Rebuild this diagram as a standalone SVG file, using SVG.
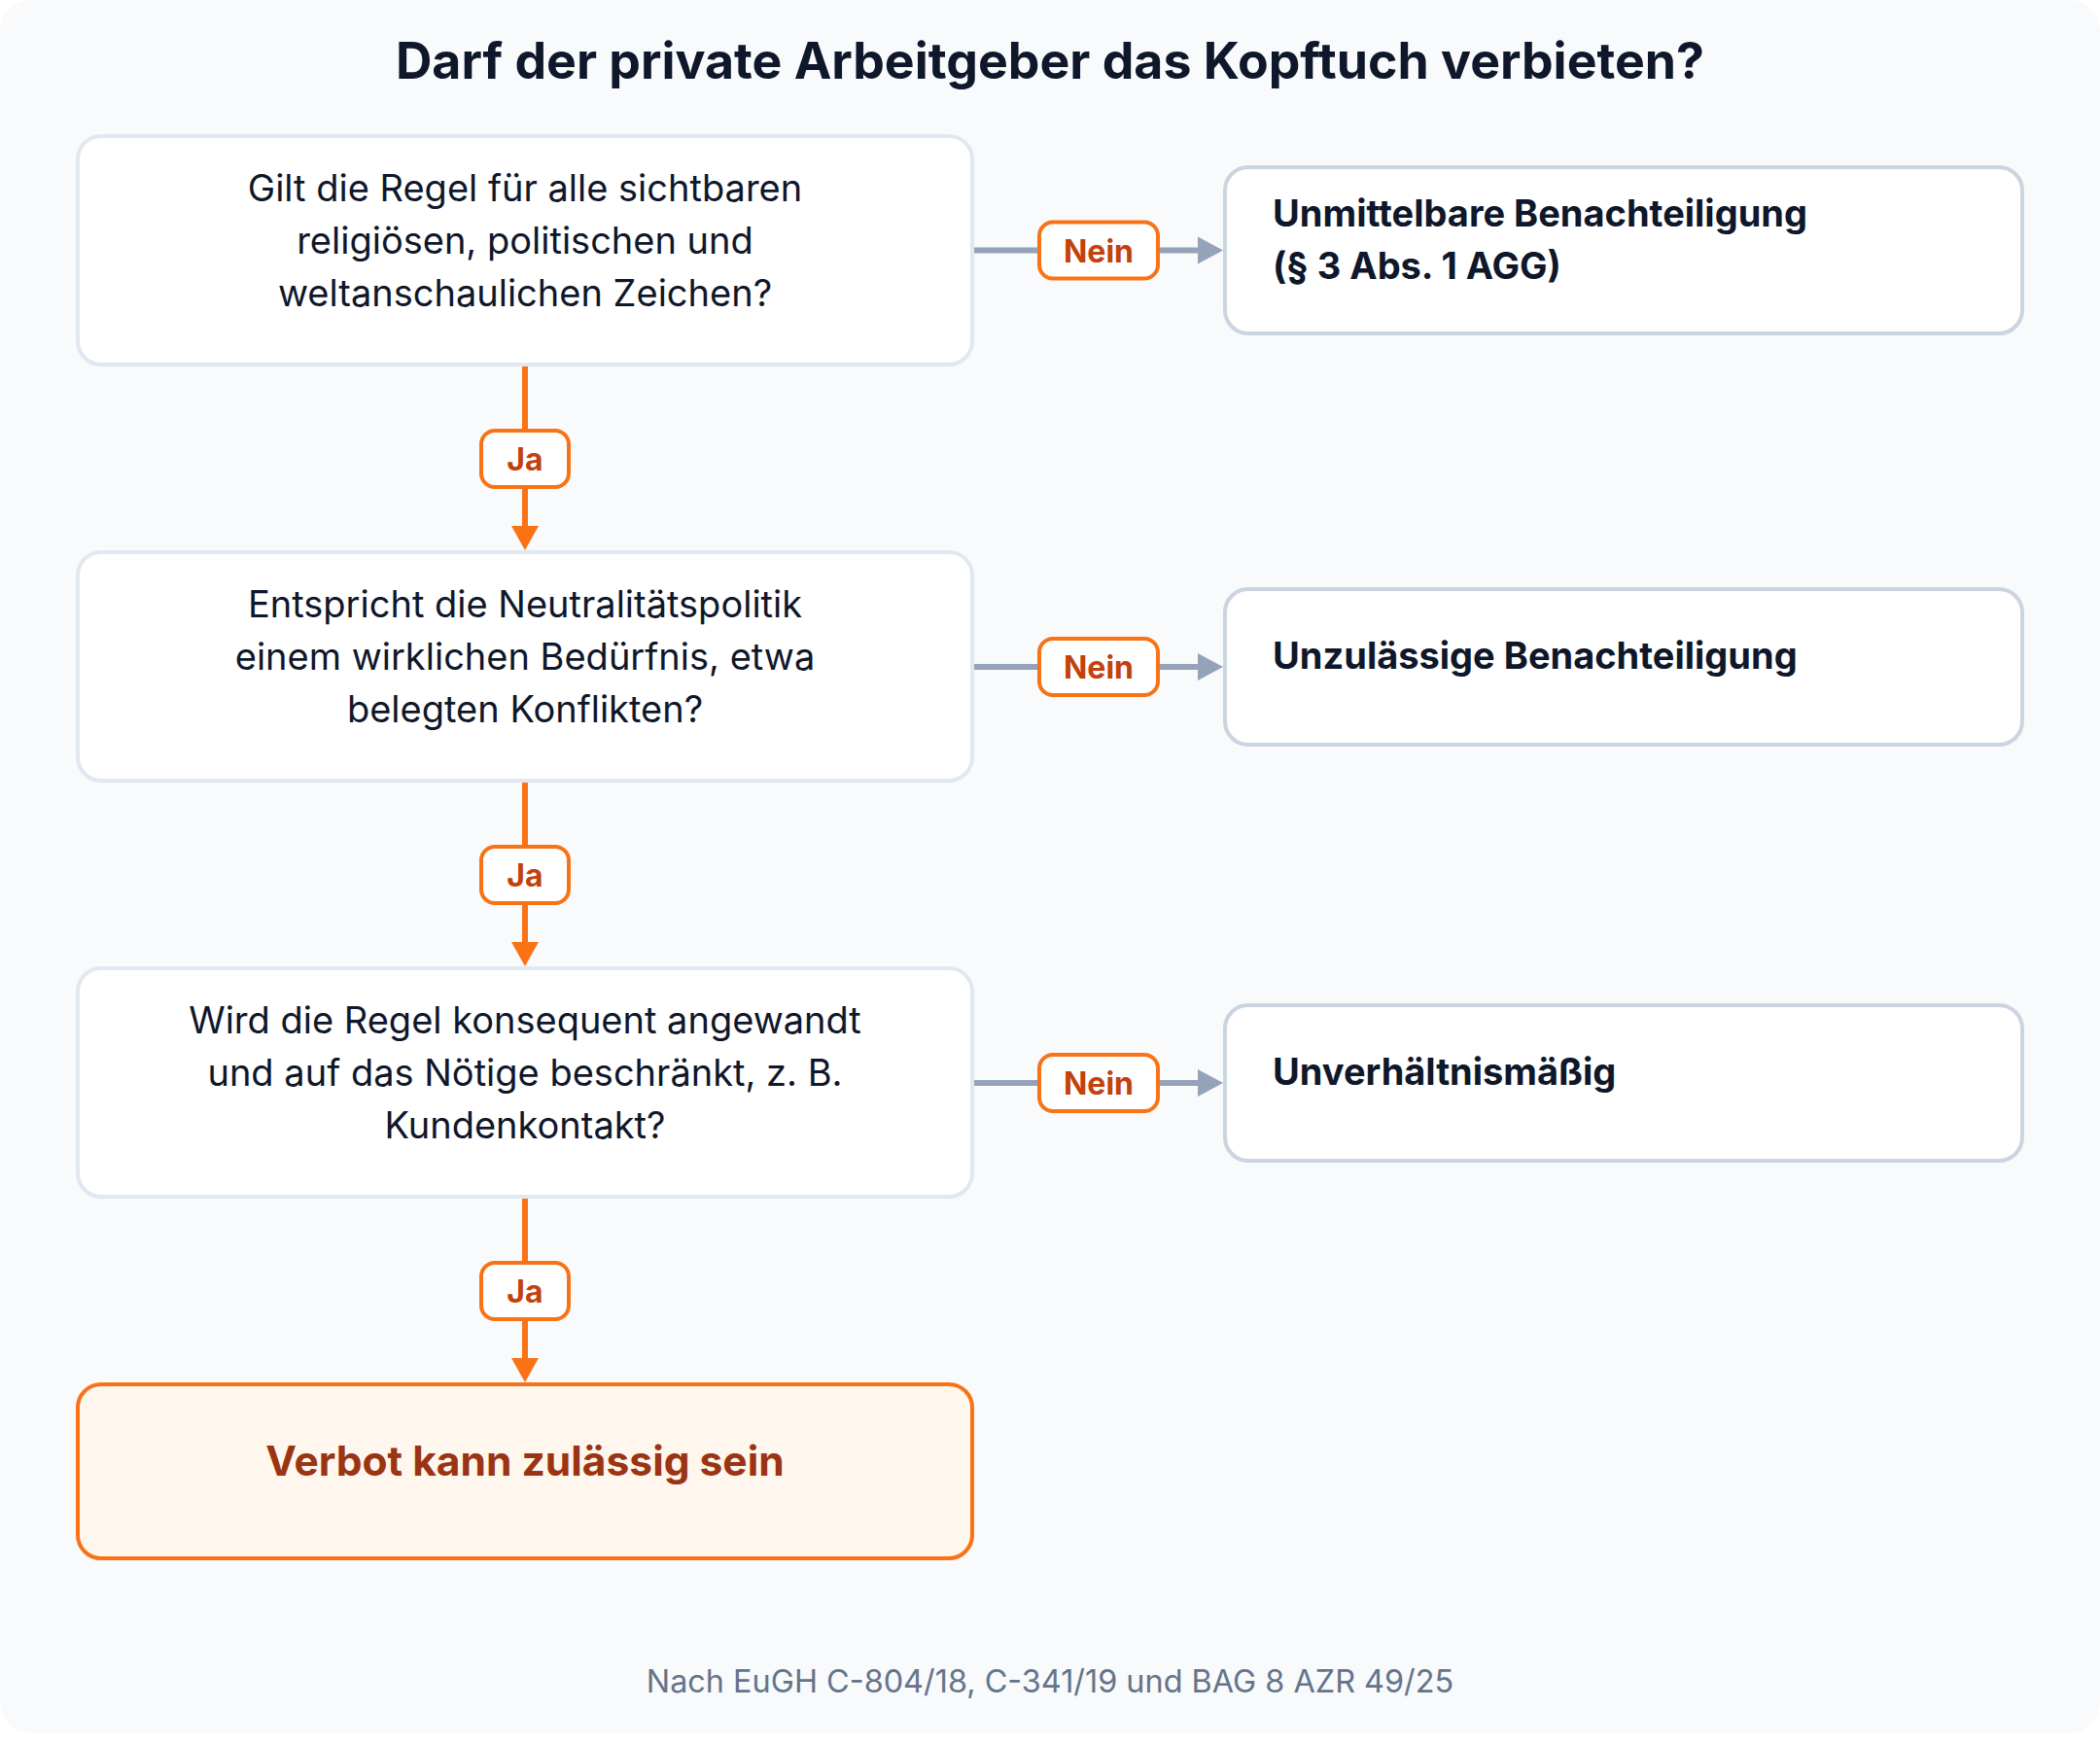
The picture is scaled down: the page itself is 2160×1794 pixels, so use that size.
<svg xmlns="http://www.w3.org/2000/svg" width="2160" height="1794" viewBox="0 0 2160 1794">
<defs>
<style>
.bg{fill:#f8fafc}
.q{fill:#ffffff;stroke:#e2e8f0;stroke-width:4}
.r{fill:#ffffff;stroke:#cbd5e1;stroke-width:4}
.f{fill:#fff7ed;stroke:#f97316;stroke-width:4}
.lbl{fill:#ffffff;stroke:#f97316;stroke-width:4}
.t{font-family:Inter,"Noto Sans","Liberation Sans",sans-serif}
.qt{font-size:38px;fill:#0f172a;text-anchor:middle}
.rt{font-size:38px;font-weight:700;fill:#0f172a}
.lt{font-size:32px;font-weight:700;fill:#c2410c;text-anchor:middle}
.yes{stroke:#f97316;stroke-width:6;fill:none}
.no{stroke:#94a3b8;stroke-width:6;fill:none}
.yesh{fill:#f97316}
.noh{fill:#94a3b8}
</style>
</defs>
<rect x="0" y="0" width="2160" height="1794" fill="#ffffff"/>
<rect class="bg" x="0" y="0" width="2160" height="1783" rx="32"/>
<text class="t" x="1080" y="81" font-size="51.8" font-weight="700" fill="#0f172a" text-anchor="middle">Darf der private Arbeitgeber das Kopftuch verbieten?</text>

<g id="connectors">
  <line class="yes" x1="540" y1="377" x2="540" y2="542"/>
  <polygon class="yesh" points="526,541 554,541 540,566"/>
  <line class="yes" x1="540" y1="805" x2="540" y2="970"/>
  <polygon class="yesh" points="526,969 554,969 540,994"/>
  <line class="yes" x1="540" y1="1233" x2="540" y2="1398"/>
  <polygon class="yesh" points="526,1397 554,1397 540,1422"/>
  <line class="no" x1="1002" y1="257.5" x2="1234" y2="257.5"/>
  <polygon class="noh" points="1232,243.5 1232,271.5 1258,257.5"/>
  <line class="no" x1="1002" y1="686" x2="1234" y2="686"/>
  <polygon class="noh" points="1232,672 1232,700 1258,686"/>
  <line class="no" x1="1002" y1="1114" x2="1234" y2="1114"/>
  <polygon class="noh" points="1232,1100 1232,1128 1258,1114"/>
  <g id="label-ja1"><rect class="lbl" x="495" y="443" width="90" height="58" rx="14"/><text class="t lt" x="540" y="484">Ja</text></g>
  <g id="label-ja2"><rect class="lbl" x="495" y="871" width="90" height="58" rx="14"/><text class="t lt" x="540" y="912">Ja</text></g>
  <g id="label-ja3"><rect class="lbl" x="495" y="1299" width="90" height="58" rx="14"/><text class="t lt" x="540" y="1340">Ja</text></g>
  <g id="label-nein1"><rect class="lbl" x="1069" y="228.5" width="122" height="58" rx="14"/><text class="t lt" x="1130" y="269.5">Nein</text></g>
  <g id="label-nein2"><rect class="lbl" x="1069" y="657" width="122" height="58" rx="14"/><text class="t lt" x="1130" y="698">Nein</text></g>
  <g id="label-nein3"><rect class="lbl" x="1069" y="1085" width="122" height="58" rx="14"/><text class="t lt" x="1130" y="1126">Nein</text></g>
</g>

<g id="q1">
  <rect class="q" x="80" y="140" width="920" height="235" rx="24"/>
  <text class="t qt"><tspan x="540" y="207">Gilt die Regel für alle sichtbaren</tspan><tspan x="540" y="261">religiösen, politischen und</tspan><tspan x="540" y="315">weltanschaulichen Zeichen?</tspan></text>
</g>
<g id="q2">
  <rect class="q" x="80" y="568" width="920" height="235" rx="24"/>
  <text class="t qt"><tspan x="540" y="635">Entspricht die Neutralitätspolitik</tspan><tspan x="540" y="689">einem wirklichen Bedürfnis, etwa</tspan><tspan x="540" y="743">belegten Konflikten?</tspan></text>
</g>
<g id="q3">
  <rect class="q" x="80" y="996" width="920" height="235" rx="24"/>
  <text class="t qt"><tspan x="540" y="1063">Wird die Regel konsequent angewandt</tspan><tspan x="540" y="1117">und auf das Nötige beschränkt, z. B.</tspan><tspan x="540" y="1171">Kundenkontakt?</tspan></text>
</g>
<g id="result">
  <rect class="f" x="80" y="1424" width="920" height="179" rx="24"/>
  <text class="t" x="540" y="1518" font-size="42.5" font-weight="700" fill="#9a3412" text-anchor="middle">Verbot kann zulässig sein</text>
</g>
<g id="n1">
  <rect class="r" x="1260" y="172" width="820" height="171" rx="24"/>
  <text class="t rt"><tspan x="1309" y="233">Unmittelbare Benachteiligung</tspan><tspan x="1309" y="287">(§ 3 Abs. 1 AGG)</tspan></text>
</g>
<g id="n2">
  <rect class="r" x="1260" y="606" width="820" height="160" rx="24"/>
  <text class="t rt" x="1309" y="688">Unzulässige Benachteiligung</text>
</g>
<g id="n3">
  <rect class="r" x="1260" y="1034" width="820" height="160" rx="24"/>
  <text class="t rt" x="1309" y="1116">Unverhältnismäßig</text>
</g>
<text class="t" x="1080" y="1741" font-size="32.4" fill="#64748b" text-anchor="middle">Nach EuGH C-804/18, C-341/19 und BAG 8 AZR 49/25</text>
</svg>
